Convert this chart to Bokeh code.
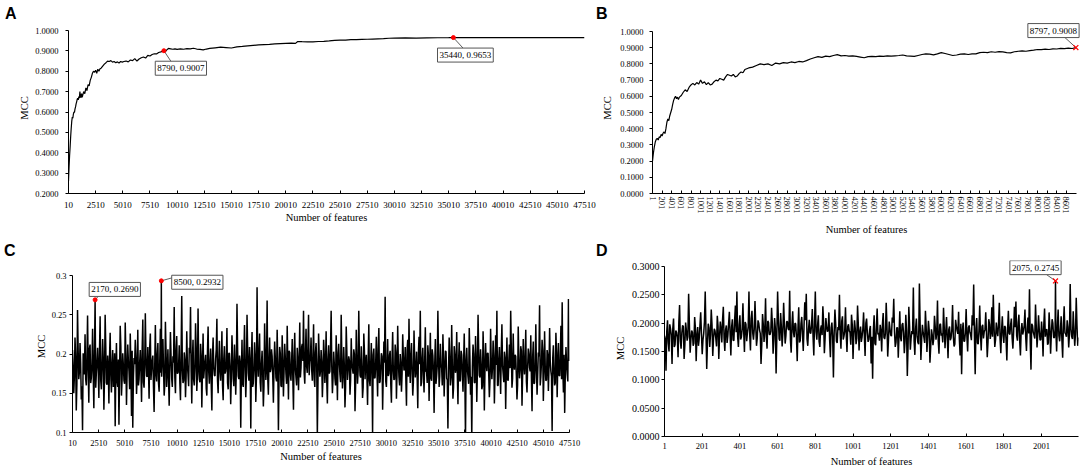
from bokeh.plotting import figure
from bokeh.models import Range1d, FixedTicker, PrintfTickFormatter, Label, Div
from bokeh.layouts import row, column
from bokeh.embed import file_html
from bokeh.resources import INLINE
import numpy as np

SERIF = "Liberation Serif"
SANS = "Liberation Sans"

# ---------------- Panel A data ----------------
A_features = [10, 60, 110, 160, 210, 260, 310, 360, 410, 460, 510, 560, 610, 660, 710, 760, 810, 860,
              910, 960, 1010, 1060, 1110, 1160, 1210, 1260, 1310, 1410, 1510, 1610, 1710, 1810, 1910,
              2010, 2110, 2210, 2310, 2410, 2510, 2610, 2710, 2810, 2910, 3010, 3160, 3310, 3460, 3610,
              3760, 3910, 4060, 4210, 4360, 4510, 4660, 4810, 4960, 5110, 5310, 5510, 5710, 5910, 6110,
              6310, 6510, 6710, 6910, 7110, 7310, 7510, 7710, 7910, 8110, 8310, 8510, 8790, 8910, 9060,
              9210, 9410, 9610, 9810, 10010, 10310, 10610, 10910, 11210, 11510, 11810, 12110, 12410,
              12710, 13010, 13510, 14010, 14510, 15010, 15510, 16010, 16510, 17010, 17510, 18010, 18510,
              19010, 19510, 20010, 20510, 20910, 21110, 21510, 22010, 22510, 23010, 23510, 24010, 24510,
              25010, 25510, 26010, 26510, 27010, 27510, 28010, 28510, 29010, 29510, 30010, 31010, 32010,
              33010, 34010, 35010, 35440, 36010, 47510]
A_mcc = [0.262, 0.330, 0.385, 0.430, 0.480, 0.520, 0.555, 0.575, 0.570, 0.590, 0.600, 0.598, 0.615, 0.625,
         0.640, 0.650, 0.662, 0.668, 0.660, 0.675, 0.668, 0.700, 0.675, 0.670, 0.690, 0.672, 0.680, 0.700,
         0.690, 0.718, 0.705, 0.735, 0.728, 0.755, 0.770, 0.790, 0.800, 0.795, 0.805, 0.790, 0.810, 0.800,
         0.812, 0.815, 0.825, 0.835, 0.842, 0.850, 0.848, 0.852, 0.845, 0.848, 0.842, 0.846, 0.840, 0.848,
         0.845, 0.848, 0.850, 0.846, 0.855, 0.852, 0.862, 0.850, 0.860, 0.866, 0.870, 0.865, 0.878, 0.875,
         0.882, 0.886, 0.885, 0.892, 0.895, 0.9007, 0.895, 0.905, 0.912, 0.910, 0.908, 0.910, 0.907, 0.910,
         0.908, 0.911, 0.910, 0.913, 0.909, 0.907, 0.905, 0.909, 0.912, 0.915, 0.918, 0.916, 0.914, 0.920,
         0.922, 0.925, 0.927, 0.929, 0.931, 0.932, 0.934, 0.936, 0.937, 0.938, 0.937, 0.946, 0.945, 0.944,
         0.944, 0.946, 0.947, 0.949, 0.952, 0.953, 0.953, 0.955, 0.955, 0.956, 0.957, 0.958, 0.959, 0.960,
         0.962, 0.963, 0.9635, 0.963, 0.964, 0.9645, 0.965, 0.9653, 0.9653, 0.9653]
A_best_x = [8790, 35440]
A_best_y = [0.9007, 0.9653]

# ---------------- Panel B data ----------------
B_features = [1, 20, 40, 60, 80, 100, 120, 140, 160, 180, 200, 220, 240, 260, 280, 300, 320, 340, 360, 380,
              400, 420, 440, 460, 480, 500, 520, 540, 560, 600, 640, 680, 720, 760, 800, 840, 880, 920, 960,
              1000, 1040, 1080, 1120, 1160, 1200, 1240, 1280, 1320, 1360, 1400, 1440, 1480, 1520, 1560,
              1600, 1640, 1680, 1720, 1760, 1800, 1840, 1880, 1920, 1960, 2000, 2080, 2160, 2240, 2320,
              2400, 2480, 2560, 2640, 2720, 2800, 2880, 2960, 3040, 3120, 3200, 3280, 3360, 3440, 3520,
              3600, 3680, 3760, 3840, 3920, 4000, 4080, 4160, 4240, 4320, 4400, 4480, 4560, 4640, 4720,
              4800, 4880, 4960, 5040, 5120, 5200, 5280, 5360, 5440, 5520, 5600, 5680, 5760, 5840, 5920,
              6000, 6080, 6160, 6240, 6320, 6400, 6480, 6560, 6640, 6720, 6800, 6880, 6960, 7040, 7120,
              7200, 7280, 7360, 7440, 7520, 7600, 7680, 7760, 7840, 7920, 8000, 8080, 8160, 8240, 8320,
              8400, 8480, 8560, 8640, 8720, 8797]
B_mcc = [0.200, 0.250, 0.290, 0.320, 0.335, 0.340, 0.330, 0.350, 0.345, 0.365, 0.355, 0.372, 0.380, 0.370,
         0.400, 0.440, 0.460, 0.450, 0.480, 0.500, 0.520, 0.550, 0.575, 0.590, 0.600, 0.585, 0.595, 0.580,
         0.595, 0.605, 0.625, 0.640, 0.630, 0.655, 0.670, 0.680, 0.670, 0.685, 0.675, 0.700, 0.680, 0.690,
         0.672, 0.685, 0.670, 0.675, 0.690, 0.700, 0.695, 0.710, 0.705, 0.700, 0.720, 0.735, 0.730, 0.725,
         0.735, 0.720, 0.725, 0.740, 0.750, 0.745, 0.765, 0.770, 0.775, 0.780, 0.790, 0.800, 0.795, 0.800,
         0.790, 0.805, 0.800, 0.808, 0.805, 0.812, 0.808, 0.815, 0.812, 0.820, 0.830, 0.838, 0.845, 0.840,
         0.848, 0.845, 0.852, 0.857, 0.850, 0.852, 0.848, 0.850, 0.846, 0.842, 0.838, 0.845, 0.847, 0.845,
         0.848, 0.846, 0.850, 0.848, 0.850, 0.852, 0.855, 0.850, 0.848, 0.846, 0.852, 0.858, 0.862, 0.860,
         0.856, 0.862, 0.870, 0.864, 0.858, 0.852, 0.855, 0.860, 0.862, 0.858, 0.862, 0.862, 0.870, 0.872,
         0.870, 0.875, 0.872, 0.876, 0.874, 0.870, 0.868, 0.875, 0.878, 0.880, 0.878, 0.882, 0.885, 0.889,
         0.888, 0.891, 0.889, 0.893, 0.892, 0.896, 0.894, 0.897, 0.895, 0.9008]
B_best_x = [8797]
B_best_y = [0.9008]

# ---------------- Panel C data ----------------
# samples at features 10, 130, 250, ... (every 120)
C_start, C_step = 10, 120
C_mcc = [
    .205, .150, .221, .128, .256, .168, .214, .142, .103, .190,
    .225, .160, .249, .138, .212, .170, .232, .131, .269, .176,
    .208, .144, .248, .155, .219, .129, .250, .163, .198, .137,
    .227, .151, .205, .172, .108, .214, .158, .110, .236, .147,
    .201, .166, .240, .135, .212, .178, .226, .121, .106, .195,
    .218, .149, .231, .168, .205, .139, .244, .157, .252, .172,
    .209, .143, .226, .181, .198, .126, .237, .165, .214, .152,
    .232, .171, .219, .147, .241, .158, .206, .134, .228, .169,
    .197, .260, .150, .223, .176, .211, .141, .274, .163, .202,
    .145, .229, .174, .208, .260, .137, .218, .160, .239, .153,
    .258, .168, .213, .132, .226, .181, .199, .147, .235, .162,
    .207, .128, .221, .173, .194, .245, .150, .217, .166, .229,
    .141, .210, .178, .233, .155, .201, .136, .224, .169, .212,
    .148, .264, .172, .198, .106, .218, .158, .237, .145, .250,
    .176, .209, .105, .228, .163, .215, .139, .285, .171, .226,
    .152, .204, .133, .239, .167, .268, .148, .221, .181, .197,
    .138, .216, .170, .231, .103, .209, .160, .224, .146, .213,
    .175, .236, .142, .202, .166, .219, .129, .227, .170, .208,
    .154, .240, .183, .213, .255, .162, .232, .176, .250, .190,
    .221, .166, .238, .158, .214, .098, .226, .171, .205, .145,
    .218, .163, .229, .137, .211, .178, .255, .150, .203, .169,
    .224, .141, .213, .174, .250, .156, .209, .132, .235, .167,
    .197, .148, .220, .181, .206, .127, .231, .162, .255, .173,
    .210, .144, .226, .168, .199, .135, .238, .159, .214, .099,
    .207, .170, .222, .146, .233, .165, .201, .129, .216, .273,
    .158, .219, .175, .204, .138, .228, .167, .212, .143, .236,
    .171, .200, .152, .225, .179, .209, .134, .218, .245, .163,
    .214, .147, .230, .170, .203, .131, .222, .255, .164, .208,
    .151, .234, .177, .211, .140, .227, .166, .198, .125, .219,
    .172, .255, .158, .213, .182, .225, .146, .204, .169, .105,
    .221, .160, .237, .143, .210, .176, .228, .136, .215, .167,
    .199, .152, .226, .092, .208, .171, .233, .148, .095, .212,
    .164, .223, .139, .250, .173, .206, .155, .229, .128, .214,
    .178, .201, .145, .232, .168, .217, .137, .224, .255, .160,
    .209, .149, .238, .175, .203, .130, .221, .166, .212, .255,
    .157, .226, .180, .197, .142, .235, .169, .210, .134, .219,
    .174, .231, .151, .207, .183, .224, .127, .216, .163, .238,
    .148, .202, .262, .171, .218, .140, .229, .166, .205, .153,
    .233, .178, .102, .211, .160, .227, .145, .214, .172, .236,
    .266, .151, .125, .209, .174, .270]
# in-between samples at features 70, 190, 310, ... (every 120)
C2_start, C2_step = 70, 120
C2_mcc = [
    .183, .171, .196, .162, .205, .177, .188, .159, .201, .174,
    .168, .192, .181, .207, .163, .186, .175, .199, .157, .190,
    .179, .203, .166, .185, .194, .170, .209, .161, .182, .197,
    .173, .188, .158, .201, .180, .165, .193, .176, .210, .168,
    .186, .162, .198, .177, .191, .155, .184, .204, .169, .187,
    .195, .172, .160, .189, .178, .206, .164, .183, .198, .171,
    .181, .209, .167, .192, .157, .185, .174, .200, .163, .190,
    .176, .194, .182, .161, .203, .179, .168, .187, .196, .158,
    .189, .170, .205, .175, .184, .163, .199, .180, .166, .193,
    .172, .186, .159, .201, .178, .195, .167, .182, .208, .174,
    .185, .164, .197, .180, .169, .190, .156, .203, .177, .188,
    .161, .199, .183, .172, .206, .166, .191, .178, .185, .160,
    .194, .175, .188, .163, .201, .182, .170, .196, .159, .187,
    .179, .205, .168, .190, .176, .162, .199, .184, .173, .207,
    .166, .186, .193, .158, .181, .197, .171, .189, .203, .164,
    .188, .174, .160, .200, .183, .169, .192, .177, .206, .171,
    .183, .196, .165, .187, .172, .201, .158, .190, .179, .195,
    .162, .185, .204, .173, .189, .167, .198, .181, .160, .193,
    .186, .170, .209, .191, .176, .199, .184, .205, .173, .196,
    .180, .193, .168, .202, .187, .163, .197, .178, .190, .171,
    .199, .182, .166, .194, .175, .207, .184, .169, .188, .160,
    .178, .201, .189, .164, .196, .172, .185, .158, .203, .181,
    .192, .167, .186, .175, .200, .162, .191, .179, .197, .170,
    .183, .158, .204, .188, .171, .195, .166, .187, .176, .199,
    .169, .190, .178, .206, .163, .184, .197, .174, .189, .165,
    .186, .172, .199, .161, .193, .180, .168, .202, .177, .191,
    .160, .188, .175, .196, .183, .167, .205, .171, .186, .198,
    .179, .164, .192, .181, .170, .201, .187, .159, .195, .174,
    .190, .178, .163, .197, .184, .169, .206, .176, .188, .162,
    .185, .199, .172, .186, .160, .194, .179, .203, .167, .181,
    .196, .170, .187, .158, .199, .182, .173, .191, .165, .204,
    .176, .189, .168, .193, .180, .162, .197, .171, .184, .200,
    .163, .192, .181, .205, .170, .187, .159, .196, .178, .189,
    .201, .175, .166, .190, .183, .198, .172, .186, .160, .194,
    .177, .203, .185, .164, .195, .179, .168, .191, .182, .207,
    .169, .186, .199, .173, .161, .192, .180, .204, .175, .188,
    .193, .165, .183, .200, .178, .170, .196, .162, .187, .181,
    .174, .197, .160, .189, .204, .176, .185, .167, .199, .183,
    .190, .171, .195, .179, .163, .202, .186, .173, .194, .168,
    .182, .199, .176, .188, .165, .191]
C_best_x = [2170, 8500]
C_best_y = [0.2690, 0.2932]

# ---------------- Panel D data ----------------
# samples at features 1, 9, 17, ... (every 8)
D_start, D_step = 1, 8
D_mcc = [
    .178, .116, .205, .150, .190, .128, .208, .162, .184, .140,
    .232, .155, .196, .137, .201, .169, .252, .148, .187, .160,
    .211, .133, .193, .172, .219, .145, .182, .256, .119, .199,
    .158, .224, .142, .190, .174, .213, .137, .203, .166, .229,
    .151, .196, .178, .220, .143, .207, .169, .231, .256, .158,
    .214, .176, .235, .149, .198, .183, .256, .152, .222, .171,
    .239, .160, .205, .188, .128, .216, .167, .244, .155, .201,
    .180, .227, .146, .209, .111, .256, .172, .218, .159, .236,
    .164, .203, .190, .257, .148, .221, .175, .199, .133, .228,
    .169, .211, .151, .237, .252, .160, .206, .182, .225, .143,
    .256, .171, .214, .158, .196, .230, .147, .209, .185, .219,
    .140, .201, .104, .224, .168, .193, .250, .155, .212, .177,
    .228, .149, .198, .184, .215, .137, .205, .163, .231, .152,
    .194, .176, .219, .142, .208, .167, .188, .129, .102, .214,
    .161, .226, .183, .197, .150, .218, .172, .236, .141, .203,
    .179, .210, .243, .158, .192, .139, .221, .168, .200, .147,
    .215, .107, .229, .153, .186, .263, .144, .208, .166, .270,
    .135, .197, .175, .222, .149, .204, .130, .189, .161, .213,
    .171, .240, .146, .199, .182, .227, .156, .211, .138, .194,
    .174, .232, .159, .206, .187, .220, .143, .110, .201, .168,
    .225, .150, .196, .179, .214, .268, .110, .209, .163, .231,
    .152, .197, .185, .219, .140, .207, .172, .228, .250, .158,
    .201, .177, .236, .147, .212, .165, .193, .134, .222, .180,
    .208, .155, .229, .238, .169, .215, .143, .200, .186, .224,
    .151, .210, .260, .118, .196, .179, .233, .157, .214, .170,
    .203, .141, .226, .188, .162, .219, .146, .207, .175, .190,
    .150, .224, .168, .212, .139, .230, .181, .205, .157, .269,
    .176, .221, .160, .245, .160]
# in-between samples at features 5, 13, 21, ... (every 8)
D2_start, D2_step = 5, 8
D2_mcc = [
    .172, .185, .166, .198, .179, .190, .158, .187, .175, .201,
    .169, .183, .194, .162, .188, .176, .199, .171, .184, .165,
    .191, .178, .160, .196, .182, .170, .203, .185, .167, .192,
    .180, .197, .173, .186, .159, .195, .177, .189, .206, .174,
    .188, .165, .199, .181, .193, .170, .205, .184, .176, .197,
    .171, .190, .186, .202, .168, .194, .179, .208, .183, .189,
    .195, .174, .200, .182, .163, .198, .187, .176, .204, .180,
    .186, .199, .172, .191, .181, .207, .169, .193, .185, .198,
    .178, .203, .188, .170, .196, .184, .200, .175, .191, .166,
    .199, .181, .193, .205, .172, .189, .183, .197, .176, .202,
    .185, .196, .168, .190, .179, .201, .174, .194, .187, .170,
    .192, .176, .183, .199, .165, .188, .181, .203, .171, .186,
    .179, .194, .186, .162, .197, .180, .190, .173, .198, .184,
    .167, .189, .178, .200, .183, .171, .195, .176, .188, .164,
    .193, .180, .169, .187, .198, .175, .182, .196, .170, .190,
    .177, .201, .185, .166, .192, .179, .174, .197, .183, .168,
    .186, .160, .195, .173, .181, .168, .190, .177, .163, .199,
    .171, .184, .165, .193, .176, .188, .158, .180, .172, .194,
    .182, .169, .197, .178, .166, .191, .184, .175, .189, .170,
    .188, .176, .163, .195, .181, .172, .199, .186, .168, .183,
    .177, .192, .184, .170, .196, .178, .190, .165, .187, .180,
    .194, .173, .189, .181, .167, .198, .183, .176, .193, .171,
    .185, .200, .172, .188, .179, .195, .168, .190, .182, .197,
    .174, .186, .193, .178, .201, .169, .187, .180, .196, .175,
    .190, .182, .167, .199, .184, .173, .194, .179, .188, .171,
    .183, .197, .176, .189, .165, .192, .181, .200, .174, .186,
    .195, .178, .187, .170, .198, .183, .176, .193, .180, .190,
    .172, .188, .181, .196, .175]
D_best_x = [2075]
D_best_y = [0.2745]

# ---------------- ticks ----------------
AC_xticks = list(range(10, 47511, 2500))
B_xticks = list(range(1, 8602, 200))
D_xticks = list(range(1, 2002, 200))
A_yticks = [0.2, 0.3, 0.4, 0.5, 0.6, 0.7, 0.8, 0.9, 1.0]
B_yticks = [0.0, 0.1, 0.2, 0.3, 0.4, 0.5, 0.6, 0.7, 0.8, 0.9, 1.0]
C_yticks = [0.1, 0.15, 0.2, 0.25, 0.3]
C_ylabels = ["0.1", "0.15", "0.2", "0.25", "0.3"]
D_yticks = [0.0, 0.05, 0.1, 0.15, 0.2, 0.25, 0.3]

FRAMES = {}


def merge(*pairs):
    xx, yy = [], []
    for xs, ys in pairs:
        xx += list(xs)
        yy += list(ys)
    order = np.argsort(xx, kind="stable")
    return [xx[i] for i in order], [yy[i] for i in order]


def make_panel(name, xdata, ydata, bl, fw, br, fh, bb, extra_top=0, extra_right=0):
    """Frame of fw x fh px shows xdata/ydata; invisible extra room above/right for callouts."""
    xspan = (xdata[1] - xdata[0]) / fw
    yspan = (ydata[1] - ydata[0]) / fh
    xr = (xdata[0], xdata[1] + extra_right * xspan)
    yr = (ydata[0], ydata[1] + extra_top * yspan)
    p = figure(title=None, frame_width=fw + extra_right, frame_height=fh + extra_top,
               min_border_left=bl, min_border_right=br - extra_right,
               min_border_top=0, min_border_bottom=bb,
               x_range=Range1d(*xr), y_range=Range1d(*yr),
               output_backend="svg", toolbar_location=None, tools="")
    p.grid.visible = False
    p.outline_line_color = None
    p.background_fill_color = "white"
    p.border_fill_color = "white"
    p.xaxis[0].bounds = xdata
    p.yaxis[0].bounds = ydata
    FRAMES[name] = (xspan, yspan)
    return p


def style_axes(p, xticks, yticks, xsize, ysize, xl_so, xa_so, yl_so, ya_so,
               yfmt=None, ylabels=None, vertical=False):
    xa, ya = p.xaxis[0], p.yaxis[0]
    xa.ticker = FixedTicker(ticks=xticks)
    ya.ticker = FixedTicker(ticks=yticks)
    if yfmt:
        ya.formatter = PrintfTickFormatter(format=yfmt)
    if ylabels:
        ya.major_label_overrides = {t: l for t, l in zip(yticks, ylabels)}
    for ax in (xa, ya):
        ax.axis_line_color = "black"
        ax.axis_line_width = 1
        ax.major_tick_line_color = "black"
        ax.minor_tick_line_color = None
        ax.major_label_text_font = SERIF
        ax.major_label_text_color = "black"
        ax.axis_label_text_font = SERIF
        ax.axis_label_text_font_style = "normal"
        ax.axis_label_text_font_size = "10.5px"
        ax.axis_label_text_color = "black"
    xa.major_tick_in = 3
    xa.major_tick_out = 0
    ya.major_tick_in = 0
    ya.major_tick_out = 3
    xa.major_label_text_font_size = xsize
    ya.major_label_text_font_size = ysize
    xa.axis_label = "Number of features"
    ya.axis_label = "MCC"
    xa.major_label_standoff = xl_so
    xa.axis_label_standoff = xa_so
    ya.major_label_standoff = yl_so
    ya.axis_label_standoff = ya_so
    if vertical:
        xa.major_label_orientation = "vertical"


def letter_div(letter, width, height, dx, dy):
    html = (f'<span style="position:relative;left:{dx}px;top:{dy}px;font-family:{SANS};'
            f'font-weight:bold;font-size:16px;line-height:16px;color:black;">{letter}</span>')
    return Div(text=html, width=width, height=height, margin=(0, 0, 0, 0),
               styles={"font-family": SANS, "font-size": "16px", "line-height": "16px",
                       "font-weight": "bold", "margin": "0", "padding": "0"})


def add_callouts(p, name, bx, by, marker, boxes, leaders):
    sx, sy = FRAMES[name]
    x0s, y0s, x1s, y1s = [], [], [], []
    for x, y, (lx, ly) in zip(bx, by, leaders):
        x0s.append(x)
        y0s.append(y)
        x1s.append(x + lx * sx)
        y1s.append(y + ly * sy)
    p.segment(x0=x0s, y0=y0s, x1=x1s, y1=y1s, line_color="#333333", line_width=0.8)
    if marker == "circle":
        p.scatter(bx, by, marker="circle", size=4, fill_color="red", line_color="red")
    else:
        p.scatter(bx, by, marker="x", size=7, line_color="red", line_width=1.2)
    for x, y, (dx, dy) in zip(bx, by, boxes):
        p.add_layout(Label(x=x, y=y, x_offset=dx, y_offset=dy, text=f"{x}, {y:.4f}",
                           text_font=SERIF, text_font_size="9px", text_color="black",
                           text_align="center", text_baseline="middle",
                           background_fill_color="white", border_line_color="#555555",
                           border_line_width=1, padding=2))


# ---------------- Panel A ----------------
pA = make_panel("A", (10, 47510), (0.2, 1.0), 68, 516, 12, 163, 47, extra_top=8)
style_axes(pA, AC_xticks, A_yticks, "9px", "8.5px", 8, 1, 7, 2, yfmt="%.4f")
pA.line(A_features, A_mcc, line_color="black", line_width=1.2)
add_callouts(pA, "A", A_best_x, A_best_y, "circle", [(17, -17.5), (12, -17.5)], [(8, -12), (11, -12)])

# ---------------- Panel B ----------------
pB = make_panel("B", (1, 8810), (0.0, 1.0), 56, 424, 8, 162, 47, extra_top=9, extra_right=4)
style_axes(pB, B_xticks, B_yticks, "8.5px", "8.5px", 3, 7, 6, 4, yfmt="%.4f", vertical=True)
pB.line(B_features, B_mcc, line_color="black", line_width=1.2)
add_callouts(pB, "B", B_best_x, B_best_y, "x", [(-22.4, 17)], [(-12, 11)])

# ---------------- Panel C ----------------
C_features = [C_start + C_step * i for i in range(len(C_mcc))]
C2_features = [C2_start + C2_step * i for i in range(len(C2_mcc))]
Cx, Cy = merge((C_features, C_mcc), (C2_features, C2_mcc), (C_best_x, C_best_y))
pC = make_panel("C", (10, 47510), (0.1, 0.3), 72, 497, 27, 157, 38, extra_top=15)
style_axes(pC, AC_xticks, C_yticks, "8.5px", "8.5px", 7, 2, 3, 2, ylabels=C_ylabels)
pC.line(Cx, Cy, line_color="black", line_width=1.5)
add_callouts(pC, "C", C_best_x, C_best_y, "circle", [(19.7, 10.4), (36, -1.4)], [(4, 4.4), (12.5, 3.5)])

# ---------------- Panel D ----------------
D_features = [D_start + D_step * i for i in range(len(D_mcc))]
D2_features = [D2_start + D2_step * i for i in range(len(D2_mcc))]
Dx, Dy = merge((D_features, D_mcc), (D2_features, D2_mcc), (D_best_x, D_best_y))
pD = make_panel("D", (1, 2197), (0.0, 0.3), 68, 414, 6, 170, 34, extra_top=6)
style_axes(pD, D_xticks, D_yticks, "8.5px", "10px", 6, 4, 2, 3, yfmt="%.4f")
pD.line(Dx, Dy, line_color="black", line_width=1.5)
add_callouts(pD, "D", D_best_x, D_best_y, "x", [(-20, 13.3)], [(-9.3, 6.6)])

colA = column(letter_div("A", 596, 22, 5, 6), pA, spacing=0)
colB = column(letter_div("B", 488, 22, 0, 6), pB, spacing=0)
colC = column(letter_div("C", 596, 20, 4, 3), pC, spacing=0)
colD = column(letter_div("D", 488, 20, 0, 3), pD, spacing=0)

layout = column(row(colA, colB, spacing=0), row(colC, colD, spacing=0), spacing=0)
open("out.html", "w").write(file_html(layout, INLINE))
